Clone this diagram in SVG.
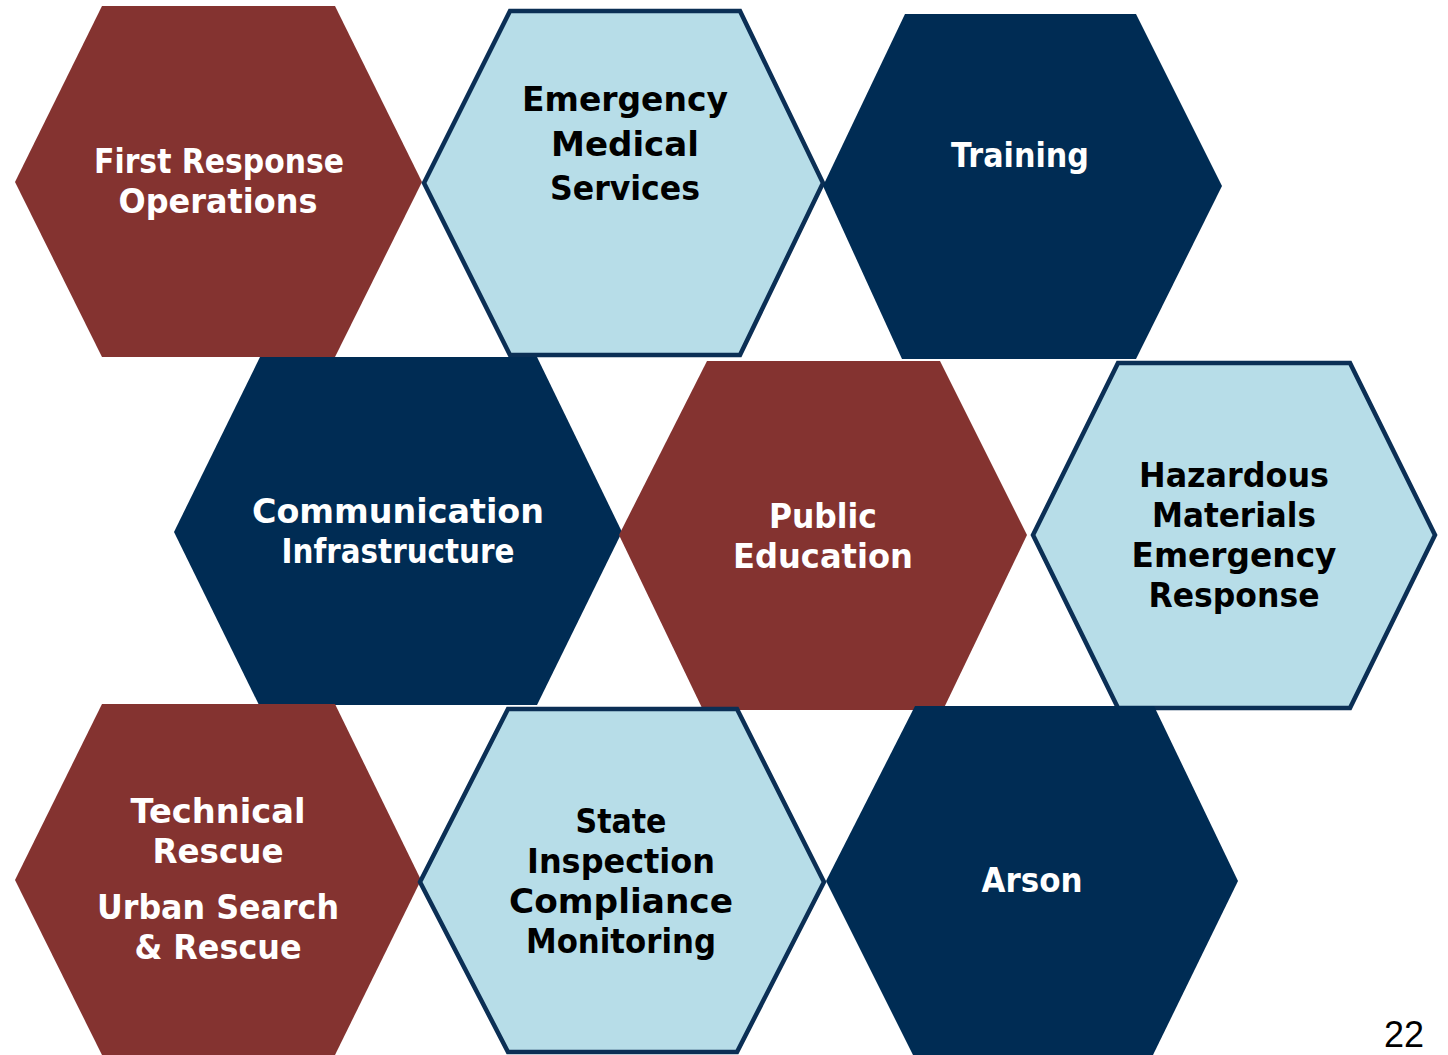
<svg xmlns="http://www.w3.org/2000/svg" width="1448" height="1055" viewBox="0 0 1448 1055">
  <style>
    .maroon { fill: #843330; }
    .navy { fill: #002C54; }
    .pale { fill: #B7DDE8; stroke: #0B2F55; stroke-width: 4.5; stroke-linejoin: miter; }
    .lbl { font-family: "DejaVu Sans", "Liberation Sans", sans-serif; font-weight: 700; font-size: 34px; text-anchor: middle; }
    .light { fill: #FFFFFF; }
    .dark { fill: #000000; }
    .page { font-family: "Liberation Sans", "DejaVu Sans", sans-serif; font-size: 36px; fill: #000000; text-anchor: middle; }
  </style>
  <rect width="1448" height="1055" fill="#FFFFFF"/>

  <!-- top row -->
  <g id="first-response">
    <polygon class="maroon" points="102,6 335,6 422,182 335,357 102,357 15,182"/>
    <text class="lbl light" x="219" y="173" textLength="250" lengthAdjust="spacingAndGlyphs">First Response</text>
    <text class="lbl light" x="218" y="213" textLength="199" lengthAdjust="spacingAndGlyphs">Operations</text>
  </g>
  <g id="ems">
    <polygon class="pale" points="510,11 740,11 823,183 740,355 510,355 424,183"/>
    <text class="lbl dark" x="625" y="111" textLength="206" lengthAdjust="spacingAndGlyphs">Emergency</text>
    <text class="lbl dark" x="625" y="156" textLength="148" lengthAdjust="spacingAndGlyphs">Medical</text>
    <text class="lbl dark" x="625" y="200" textLength="150" lengthAdjust="spacingAndGlyphs">Services</text>
  </g>
  <g id="training">
    <polygon class="navy" points="905,14 1136,14 1222,186 1136,359 902,359 823,186"/>
    <text class="lbl light" x="1020" y="167" textLength="138" lengthAdjust="spacingAndGlyphs">Training</text>
  </g>

  <!-- middle row -->
  <g id="communication">
    <polygon class="navy" points="260,357 537,357 622,532 537,705 259,705 174,532"/>
    <text class="lbl light" x="398" y="523" textLength="292" lengthAdjust="spacingAndGlyphs">Communication</text>
    <text class="lbl light" x="398" y="563" textLength="233" lengthAdjust="spacingAndGlyphs">Infrastructure</text>
  </g>
  <g id="public-education">
    <polygon class="maroon" points="707,361 940,361 1027,535 943,710 703,710 619,535"/>
    <text class="lbl light" x="823" y="528" textLength="108" lengthAdjust="spacingAndGlyphs">Public</text>
    <text class="lbl light" x="823" y="568" textLength="180" lengthAdjust="spacingAndGlyphs">Education</text>
  </g>
  <g id="hazmat">
    <polygon class="pale" points="1118,363 1350,363 1435,535 1350,708 1118,708 1033,535"/>
    <text class="lbl dark" x="1234" y="487" textLength="190" lengthAdjust="spacingAndGlyphs">Hazardous</text>
    <text class="lbl dark" x="1234" y="527" textLength="164" lengthAdjust="spacingAndGlyphs">Materials</text>
    <text class="lbl dark" x="1234" y="567" textLength="205" lengthAdjust="spacingAndGlyphs">Emergency</text>
    <text class="lbl dark" x="1234" y="607" textLength="171" lengthAdjust="spacingAndGlyphs">Response</text>
  </g>

  <!-- bottom row -->
  <g id="technical-rescue">
    <polygon class="maroon" points="102,704 335,704 421,880 335,1055 102,1055 15,880"/>
    <text class="lbl light" x="218" y="823" textLength="175" lengthAdjust="spacingAndGlyphs">Technical</text>
    <text class="lbl light" x="218" y="863" textLength="131" lengthAdjust="spacingAndGlyphs">Rescue</text>
    <text class="lbl light" x="218" y="919" textLength="242" lengthAdjust="spacingAndGlyphs">Urban Search</text>
    <text class="lbl light" x="218" y="959" textLength="167" lengthAdjust="spacingAndGlyphs">&amp; Rescue</text>
  </g>
  <g id="state-inspection">
    <polygon class="pale" points="508,709 737,709 824,882 737,1052 508,1052 420,882"/>
    <text class="lbl dark" x="621" y="833" textLength="91" lengthAdjust="spacingAndGlyphs">State</text>
    <text class="lbl dark" x="621" y="873" textLength="188" lengthAdjust="spacingAndGlyphs">Inspection</text>
    <text class="lbl dark" x="621" y="913" textLength="224" lengthAdjust="spacingAndGlyphs">Compliance</text>
    <text class="lbl dark" x="621" y="953" textLength="190" lengthAdjust="spacingAndGlyphs">Monitoring</text>
  </g>
  <g id="arson">
    <polygon class="navy" points="915,706 1154,706 1238,881 1153,1055 913,1055 826,881"/>
    <text class="lbl light" x="1032" y="892" textLength="101" lengthAdjust="spacingAndGlyphs">Arson</text>
  </g>

  <g id="connectors"/>

  <!-- slide number -->
  <text class="page" x="1404" y="1047">22</text>
</svg>
